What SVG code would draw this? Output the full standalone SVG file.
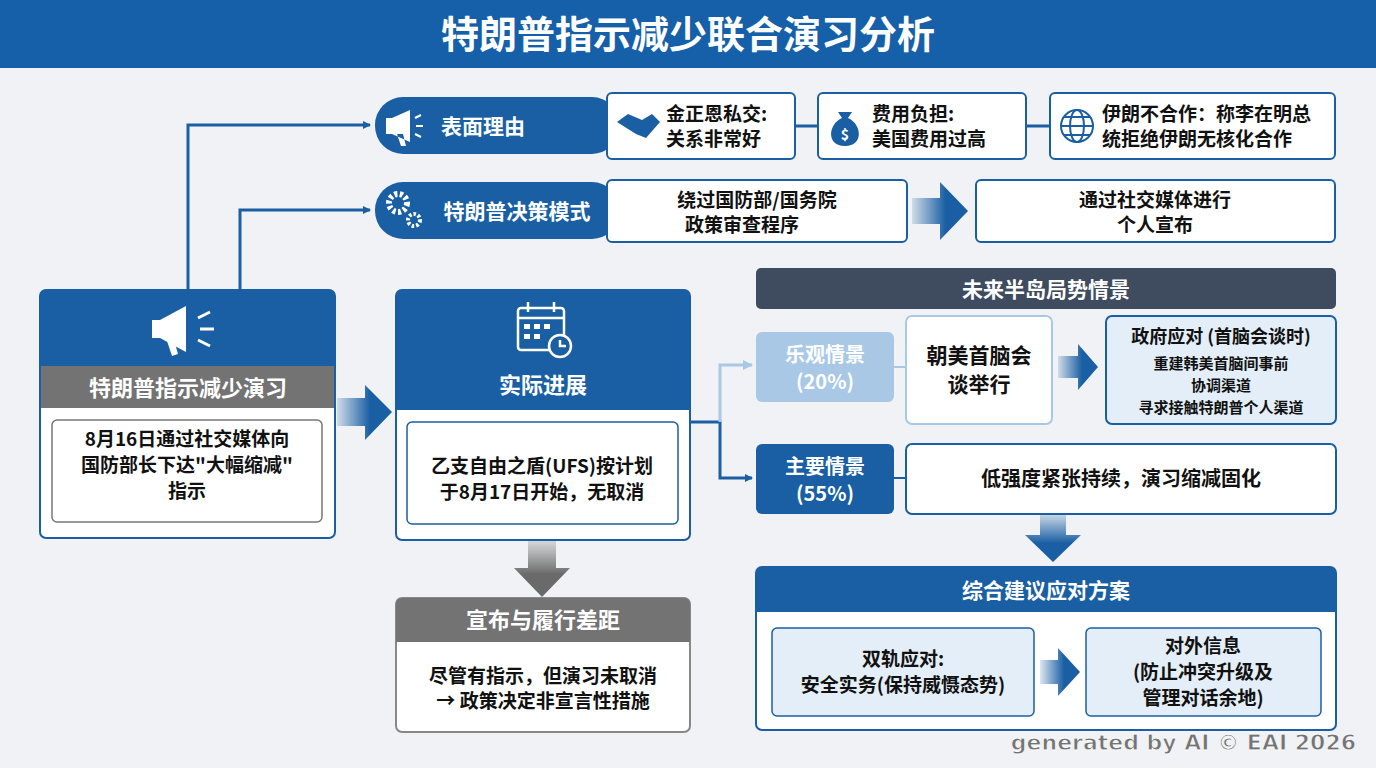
<svg xmlns="http://www.w3.org/2000/svg" width="1376" height="768" viewBox="0 0 1376 768">
<defs>
<linearGradient id="ga" x1="0" x2="1" y1="0" y2="0"><stop offset="0" stop-color="#1a5fa3" stop-opacity="0.15"/><stop offset="0.6" stop-color="#1a5fa3"/></linearGradient>
<linearGradient id="gd" x1="0" x2="0" y1="0" y2="1"><stop offset="0" stop-color="#1a5fa3" stop-opacity="0.2"/><stop offset="0.6" stop-color="#1a5fa3"/></linearGradient>
<linearGradient id="gg" x1="0" x2="0" y1="0" y2="1"><stop offset="0" stop-color="#777" stop-opacity="0.2"/><stop offset="0.6" stop-color="#6a6a6a"/></linearGradient>
<marker id="ah" markerWidth="8" markerHeight="8" refX="7" refY="4" orient="auto" markerUnits="userSpaceOnUse"><path d="M0,0 L8,4 L0,8 z" fill="#1a5fa3"/></marker>
<marker id="al" markerWidth="10" markerHeight="10" refX="9" refY="5" orient="auto" markerUnits="userSpaceOnUse"><path d="M0,0 L10,5 L0,10 z" fill="#a9c8e6"/></marker>
<style>
text{font-family:"Noto Sans CJK SC","Noto Sans",sans-serif;font-weight:bold;text-anchor:middle}
.w{fill:#fff}.k{fill:#111}
.box{fill:#fff;stroke:#1a5fa3;stroke-width:2}
.blue{fill:#1a5fa3}
.ln{fill:none;stroke:#1a5fa3;stroke-width:3}
</style>
</defs>
<rect width="1376" height="768" fill="#f0f2f5"/>
<rect width="1376" height="68" fill="#1560a8"/>
<text x="688" y="48" class="w" font-size="38">特朗普指示减少联合演习分析</text>

<g id="connectors">
<path class="ln" d="M188,290 V125 H370" marker-end="url(#ah)"/>
<path class="ln" d="M240,290 V210 H370" marker-end="url(#ah)"/>
<path class="ln" d="M795,126 H818 M1026,126 H1050"/>
<path class="ln" d="M690,422 H720 V478 H752" marker-end="url(#ah)"/>
<path d="M720,422 V365 H752" fill="none" stroke="#a9c8e6" stroke-width="3" marker-end="url(#al)"/>
<path d="M894,367 H906" stroke="#a9c8e6" stroke-width="2"/>
<path d="M894,478 H906" stroke="#1a5fa3" stroke-width="2"/>
<path d="M337,398 H365 V385 L392,412 L365,440 V426 H337 z" fill="url(#ga)"/>
<path d="M912,198 H940 V182 L968,211 L940,240 V224 H912 z" fill="url(#ga)"/>
<path d="M1058,356 H1078 V344 L1098,367 L1078,390 V378 H1058 z" fill="url(#ga)"/>
<path d="M528,540 V568 H514 L542,597 L570,568 H556 V540 z" fill="url(#gg)"/>
<path d="M1040,515 V535 H1025 L1053,562 L1081,535 H1066 V515 z" fill="url(#gd)"/>
</g>

<g id="n-left">
<rect x="40" y="290" width="295" height="248" rx="6" class="box"/>
<path d="M40,296 a6,6 0 0 1 6,-6 H329 a6,6 0 0 1 6,6 V366 H40 z" class="blue"/>
<g fill="#fff"><path d="M160,320 L186,306 V352 L160,338 z"/><rect x="152" y="320" width="10" height="18"/><path d="M166,338 L172,356 L178,354 L174,340 z"/></g>
<path d="M198,318 L210,312 M200,329 H214 M198,340 L210,346" stroke="#fff" stroke-width="3"/>
<rect x="41" y="366" width="293" height="42" fill="#737373"/>
<text x="188" y="396" class="w" font-size="22">特朗普指示减少演习</text>
<rect x="52" y="420" width="270" height="102" rx="5" fill="#fff" stroke="#777" stroke-width="1.5"/>
<text x="187" y="446" class="k" font-size="19">8月16日通过社交媒体向</text>
<text x="187" y="472" class="k" font-size="19">国防部长下达"大幅缩减"</text>
<text x="187" y="498" class="k" font-size="19">指示</text>
</g>

<g id="n-reason">
<rect x="375" y="97" width="245" height="57" rx="28" class="blue"/>
<path d="M392,118 L410,110 V142 L392,134 z M386,118 H393 V134 H386 z M397,134 L401,146 H406 L403,134 z" fill="#fff"/>
<path d="M415,118 L421,115 M416,126 H423 M415,134 L421,137" stroke="#fff" stroke-width="2"/>
<text x="483" y="134" class="w" font-size="21">表面理由</text>
</g>
<g id="n-r1"><rect x="607" y="93" width="188" height="66" rx="5" class="box"/>
<path d="M617,122 L628,114 L642,120 L652,114 L660,122 L646,138 L636,134 z" fill="#1a5fa3"/>
<text x="666" y="121" class="k" font-size="19" style="text-anchor:start">金正恩私交:</text>
<text x="666" y="146" class="k" font-size="19" style="text-anchor:start">关系非常好</text></g>
<g id="n-r2"><rect x="818" y="93" width="208" height="66" rx="5" class="box"/>
<path d="M838,112 L852,112 L848,118 C862,124 864,146 845,146 C826,146 828,124 842,118 z" fill="#1a5fa3"/>
<text x="845" y="140" class="w" font-size="14">$</text>
<text x="872" y="121" class="k" font-size="19" style="text-anchor:start">费用负担:</text>
<text x="872" y="146" class="k" font-size="19" style="text-anchor:start">美国费用过高</text></g>
<g id="n-r3"><rect x="1050" y="93" width="285" height="66" rx="5" class="box"/>
<g fill="none" stroke="#1a5fa3" stroke-width="2"><circle cx="1077" cy="126" r="16"/><ellipse cx="1077" cy="126" rx="7" ry="16"/><path d="M1061,126 H1093 M1064,117 H1090 M1064,135 H1090"/></g>
<text x="1102" y="121" class="k" font-size="19" style="text-anchor:start">伊朗不合作：称李在明总</text>
<text x="1102" y="146" class="k" font-size="19" style="text-anchor:start">统拒绝伊朗无核化合作</text></g>

<g id="n-mode">
<rect x="375" y="182" width="245" height="57" rx="28" class="blue"/>
<circle cx="398" cy="203" r="9" fill="none" stroke="#fff" stroke-width="6" stroke-dasharray="3 2.5"/>
<circle cx="414" cy="220" r="6" fill="none" stroke="#fff" stroke-width="4" stroke-dasharray="2.5 2"/>
<text x="517" y="219" class="w" font-size="21">特朗普决策模式</text>
</g>
<g id="n-m1"><rect x="607" y="180" width="300" height="62" rx="5" class="box"/>
<text x="757" y="207" class="k" font-size="19">绕过国防部/国务院</text>
<text x="742" y="232" class="k" font-size="19">政策审查程序</text></g>
<g id="n-m2"><rect x="976" y="180" width="359" height="62" rx="5" class="box"/>
<text x="1155" y="207" class="k" font-size="19">通过社交媒体进行</text>
<text x="1155" y="232" class="k" font-size="19">个人宣布</text></g>

<g id="n-mid">
<rect x="396" y="290" width="294" height="250" rx="6" class="box"/>
<path d="M396,296 a6,6 0 0 1 6,-6 H684 a6,6 0 0 1 6,6 V410 H396 z" class="blue"/>
<g fill="none" stroke="#fff" stroke-width="2.5"><rect x="518" y="308" width="46" height="42" rx="3"/><path d="M518,318 H564 M528,302 V312 M554,302 V312"/><circle cx="560" cy="346" r="11" fill="#1a5fa3"/><path d="M560,340 V346 H566"/></g>
<g fill="#fff"><rect x="524" y="324" width="6" height="5"/><rect x="534" y="324" width="6" height="5"/><rect x="544" y="324" width="6" height="5"/><rect x="524" y="334" width="6" height="5"/><rect x="534" y="334" width="6" height="5"/></g>
<text x="543" y="393" class="w" font-size="22">实际进展</text>
<rect x="407" y="422" width="271" height="102" rx="5" fill="#fff" stroke="#1a5fa3" stroke-width="1.5"/>
<text x="542" y="473" class="k" font-size="19">乙支自由之盾(UFS)按计划</text>
<text x="542" y="499" class="k" font-size="19">于8月17日开始，无取消</text>
</g>

<g id="n-gap">
<rect x="396" y="598" width="294" height="134" rx="6" fill="#fff" stroke="#888" stroke-width="2"/>
<path d="M396,604 a6,6 0 0 1 6,-6 H684 a6,6 0 0 1 6,6 V642 H396 z" fill="#737373"/>
<text x="543" y="628" class="w" font-size="22">宣布与履行差距</text>
<text x="543" y="683" class="k" font-size="19">尽管有指示，但演习未取消</text>
<text x="543" y="708" class="k" font-size="19">→ 政策决定非宣言性措施</text>
</g>

<g id="n-future"><rect x="756" y="268" width="580" height="41" rx="5" fill="#3f4b5e"/>
<text x="1046" y="297" class="w" font-size="21">未来半岛局势情景</text></g>
<g id="n-opt"><rect x="756" y="332" width="138" height="70" rx="6" fill="#a9c8e6"/>
<text x="825" y="362" class="w" font-size="20">乐观情景</text><text x="825" y="389" class="w" font-size="20" font-weight="normal">(20%)</text></g>
<g id="n-opt1"><rect x="906" y="316" width="146" height="108" rx="6" fill="#fff" stroke="#a9c8e6" stroke-width="2"/>
<text x="979" y="363" class="k" font-size="21">朝美首脑会</text><text x="979" y="392" class="k" font-size="21">谈举行</text></g>
<g id="n-opt2"><rect x="1106" y="316" width="230" height="108" rx="6" fill="#e3eef8" stroke="#1a5fa3" stroke-width="2"/>
<text x="1221" y="343" class="k" font-size="18">政府应对 (首脑会谈时)</text>
<text x="1221" y="369" class="k" font-size="15">重建韩美首脑间事前</text>
<text x="1221" y="391" class="k" font-size="15">协调渠道</text>
<text x="1221" y="413" class="k" font-size="15">寻求接触特朗普个人渠道</text></g>
<g id="n-main"><rect x="756" y="444" width="138" height="70" rx="6" class="blue"/>
<text x="825" y="474" class="w" font-size="20">主要情景</text><text x="825" y="501" class="w" font-size="20" font-weight="normal">(55%)</text></g>
<g id="n-main1"><rect x="906" y="444" width="430" height="70" rx="6" class="box"/>
<text x="1121" y="486" class="k" font-size="20">低强度紧张持续，演习缩减固化</text></g>

<g id="n-plan">
<rect x="756" y="567" width="580" height="163" rx="6" class="box"/>
<path d="M756,573 a6,6 0 0 1 6,-6 H1330 a6,6 0 0 1 6,6 V612 H756 z" class="blue"/>
<text x="1046" y="598" class="w" font-size="21">综合建议应对方案</text>
<rect x="772" y="628" width="262" height="88" rx="5" fill="#e3eef8" stroke="#1a5fa3" stroke-width="1.5"/>
<text x="903" y="666" class="k" font-size="19">双轨应对:</text>
<text x="903" y="692" class="k" font-size="19">安全实务(保持威慑态势)</text>
<rect x="1086" y="628" width="235" height="88" rx="5" fill="#e3eef8" stroke="#1a5fa3" stroke-width="1.5"/>
<text x="1203" y="653" class="k" font-size="19">对外信息</text>
<text x="1203" y="679" class="k" font-size="19">(防止冲突升级及</text>
<text x="1203" y="705" class="k" font-size="19">管理对话余地)</text>
</g>
<path id="plan-arrow" d="M1040,660 H1058 V648 L1080,672 L1058,696 V684 H1040 z" fill="url(#ga)"/>
<text x="1356" y="750" font-size="22" font-weight="normal" style="text-anchor:end;font-family:'DejaVu Sans',sans-serif" fill="#555" stroke="#fff" stroke-width="0.8" opacity="0.8">generated by AI © EAI 2026</text>
</svg>
